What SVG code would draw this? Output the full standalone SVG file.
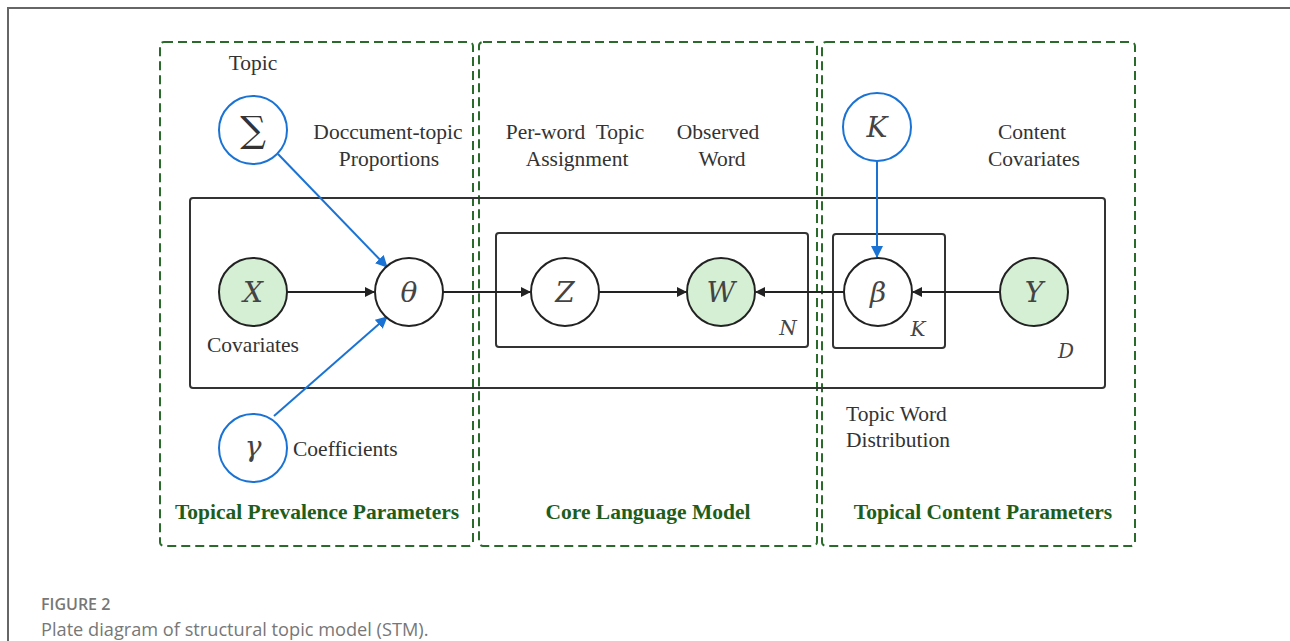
<svg xmlns="http://www.w3.org/2000/svg" width="1290" height="641" viewBox="0 0 1290 641">
<style>
.frame{fill:none;stroke:#666;stroke-width:2}
.dash{fill:none;stroke:#2a6a2a;stroke-width:2;stroke-dasharray:9,5}
.plate{fill:none;stroke:#333;stroke-width:2}
.node{fill:#fff;stroke:#222;stroke-width:2}
.obs{fill:#d4efd4;stroke:#222;stroke-width:2}
.hyper{fill:#fff;stroke:#1a73d4;stroke-width:2}
.lbl{font-family:"Liberation Serif","Times New Roman",serif;font-size:21.5px;fill:#333}
.var{font-family:"DejaVu Serif","Liberation Serif",serif;font-style:italic;font-size:28px;fill:#444}
.pl{font-family:"DejaVu Serif","Liberation Serif",serif;font-style:italic;font-size:20px;fill:#444}
.sec{font-family:"Liberation Serif","Times New Roman",serif;font-weight:bold;font-size:21.5px;fill:#1d5e1d}
.edge{stroke:#222;stroke-width:2;fill:none}
.bedge{stroke:#1a73d4;stroke-width:2;fill:none}
.cap1{font-family:"Open Sans","Noto Sans",sans-serif;font-size:16px;font-weight:600;fill:#777}
.cap2{font-family:"Open Sans","Noto Sans",sans-serif;font-size:18.2px;fill:#777}
</style>
<defs>
<marker id="ab" markerWidth="10" markerHeight="10" refX="9" refY="5" orient="auto" markerUnits="userSpaceOnUse"><path d="M0,0 L10,5 L0,10 z" fill="#222"/></marker>
<marker id="abl" markerWidth="12" markerHeight="12" refX="11" refY="6" orient="auto" markerUnits="userSpaceOnUse"><path d="M0,0 L12,6 L0,12 z" fill="#1a73d4"/></marker>
</defs>
<rect width="1290" height="641" fill="#fff"/>
<path class="frame" d="M8,641 V8 H1290"/>

<g id="sections">
<rect class="dash" x="160" y="42" width="313" height="504" rx="4"/>
<rect class="dash" x="479" y="42" width="338" height="504" rx="4"/>
<rect class="dash" x="822" y="42" width="313" height="504" rx="4"/>
<text class="sec" x="317" y="519" text-anchor="middle">Topical Prevalence Parameters</text>
<text class="sec" x="648" y="519" text-anchor="middle">Core Language Model</text>
<text class="sec" x="983" y="519" text-anchor="middle">Topical Content Parameters</text>
</g>

<g id="plates">
<rect class="plate" x="190" y="198" width="915" height="190" rx="3"/>
<rect class="plate" x="496" y="233" width="312" height="114" rx="3"/>
<rect class="plate" x="833" y="234" width="112" height="114" rx="3"/>
<text class="pl" x="788" y="335" text-anchor="middle">N</text>
<text class="pl" x="918" y="336" text-anchor="middle">K</text>
<text class="pl" x="1066" y="358" text-anchor="middle">D</text>
</g>

<g id="connectors">
<line class="edge" x1="287" y1="292" x2="374" y2="292" marker-end="url(#ab)"/>
<line class="edge" x1="443" y1="292" x2="530" y2="292" marker-end="url(#ab)"/>
<line class="edge" x1="599" y1="292" x2="686" y2="292" marker-end="url(#ab)"/>
<line class="edge" x1="844" y1="292" x2="756" y2="292" marker-end="url(#ab)"/>
<line class="edge" x1="1000" y1="292" x2="913" y2="292" marker-end="url(#ab)"/>
<line class="bedge" x1="278" y1="154" x2="387" y2="267" marker-end="url(#abl)"/>
<line class="bedge" x1="274" y1="416" x2="387" y2="317" marker-end="url(#abl)"/>
<line class="bedge" x1="877" y1="161" x2="877" y2="257" marker-end="url(#abl)"/>
</g>

<g id="node-sigma">
<circle class="hyper" cx="253" cy="130" r="34"/>
<text x="253" y="142" text-anchor="middle" font-family="DejaVu Serif,serif" font-size="36" fill="#333">∑</text>
<text class="lbl" x="253" y="70" text-anchor="middle">Topic</text>
</g>
<g id="node-gamma">
<circle class="hyper" cx="253" cy="448" r="34"/>
<text class="var" x="253" y="456" text-anchor="middle">γ</text>
<text class="lbl" x="293" y="456">Coefficients</text>
</g>
<g id="node-K">
<circle class="hyper" cx="877" cy="127" r="34"/>
<text class="var" x="877" y="137" text-anchor="middle">K</text>
</g>
<g id="node-X">
<circle class="obs" cx="253" cy="292" r="34"/>
<text class="var" x="253" y="302" text-anchor="middle">X</text>
<text class="lbl" x="253" y="352" text-anchor="middle">Covariates</text>
</g>
<g id="node-theta">
<circle class="node" cx="409" cy="292" r="34"/>
<text class="var" x="409" y="302" text-anchor="middle">θ</text>
<text class="lbl" x="388" y="139" text-anchor="middle">Doccument-topic</text>
<text class="lbl" x="389" y="166" text-anchor="middle">Proportions</text>
</g>
<g id="node-Z">
<circle class="node" cx="565" cy="292" r="34"/>
<text class="var" x="565" y="302" text-anchor="middle">Z</text>
<text class="lbl" x="575" y="139" text-anchor="middle" xml:space="preserve">Per-word  Topic</text>
<text class="lbl" x="577" y="166" text-anchor="middle">Assignment</text>
</g>
<g id="node-W">
<circle class="obs" cx="721" cy="292" r="34"/>
<text class="var" x="721" y="302" text-anchor="middle">W</text>
<text class="lbl" x="718" y="139" text-anchor="middle">Observed</text>
<text class="lbl" x="722" y="166" text-anchor="middle">Word</text>
</g>
<g id="node-beta">
<circle class="node" cx="878" cy="292" r="34"/>
<text class="var" x="878" y="302" text-anchor="middle">β</text>
<text class="lbl" x="846" y="421">Topic Word</text>
<text class="lbl" x="846" y="447">Distribution</text>
</g>
<g id="node-Y">
<circle class="obs" cx="1034" cy="292" r="34"/>
<text class="var" x="1034" y="302" text-anchor="middle">Y</text>
<text class="lbl" x="1032" y="139" text-anchor="middle">Content</text>
<text class="lbl" x="1034" y="166" text-anchor="middle">Covariates</text>
</g>

<g id="caption">
<text class="cap1" x="41" y="610">FIGURE 2</text>
<text class="cap2" x="41" y="636">Plate diagram of structural topic model (STM).</text>
</g>
</svg>
